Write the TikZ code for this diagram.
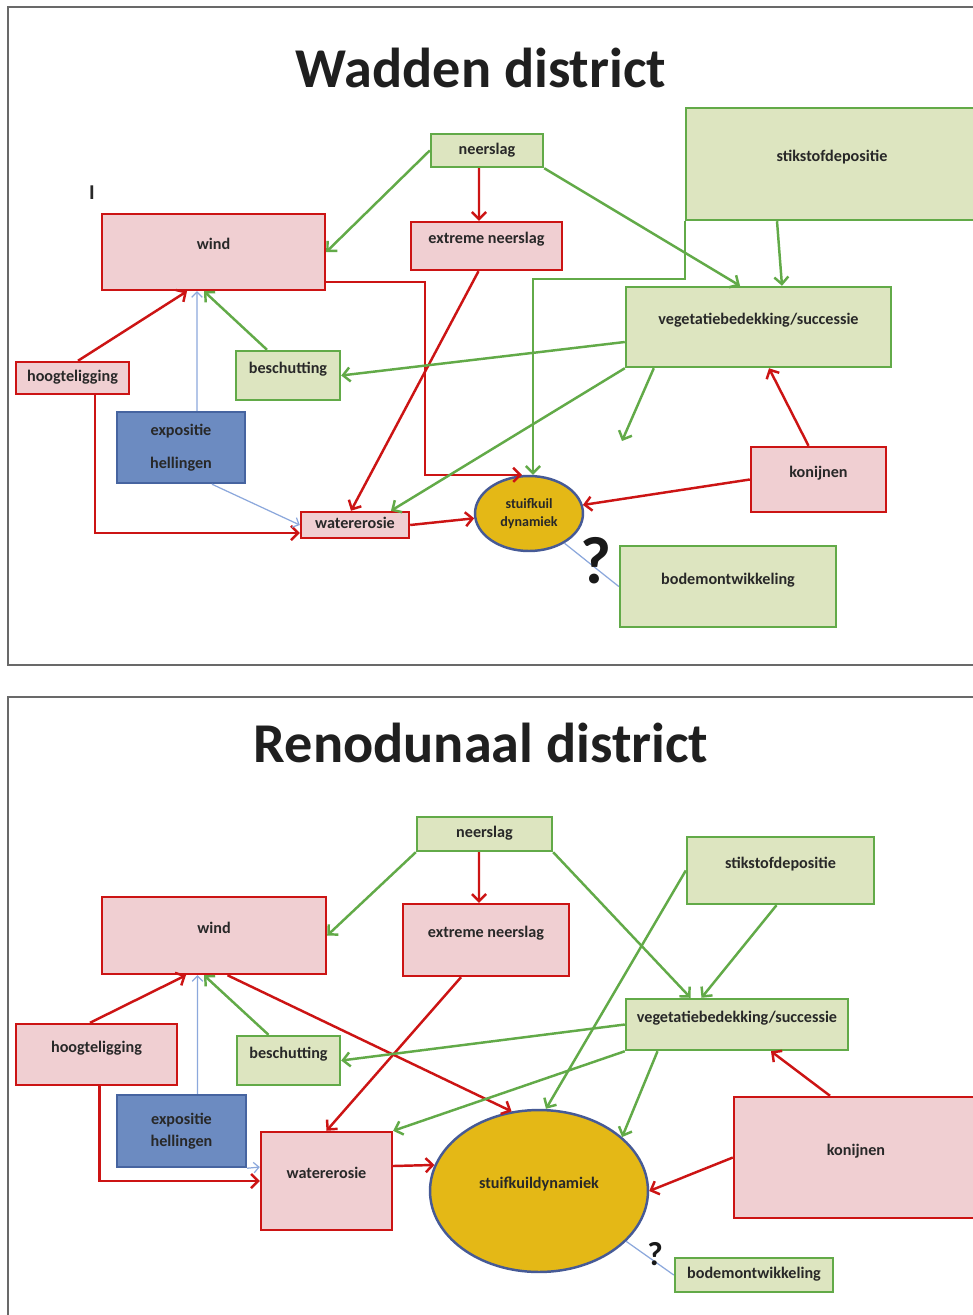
\documentclass[tikz,border=0pt]{standalone}
\usepackage{fontspec}
\setmainfont{Carlito}
\usetikzlibrary{arrows.meta,shapes.geometric}

\definecolor{rline}{RGB}{204,20,20}
\definecolor{rfill}{RGB}{240,207,210}
\definecolor{gline}{RGB}{98,170,72}
\definecolor{gfill}{RGB}{221,229,192}
\definecolor{bline}{RGB}{70,100,160}
\definecolor{bfill}{RGB}{108,139,193}
\definecolor{thinb}{RGB}{140,168,220}
\definecolor{gold}{RGB}{228,184,22}
\definecolor{kline}{RGB}{70,90,150}
\definecolor{txt}{RGB}{40,40,40}
\definecolor{framegray}{RGB}{105,105,105}

\newcommand{\lblfont}{\fontsize{9.2}{11}\selectfont\bfseries}

\tikzset{
  nbox/.style={line width=1.4pt, inner sep=0pt, font=\lblfont, text=txt,
    text height=6.5pt, text depth=2pt},
  raised/.style={text depth=9pt},
  rbox/.style={nbox, draw=rline, fill=rfill},
  gbox/.style={nbox, draw=gline, fill=gfill},
  blbox/.style={line width=1.4pt, inner sep=0pt, font=\lblfont, text=txt,
    draw=bline, fill=bfill, align=center},
  kuil/.style={ellipse, line width=1.4pt, inner sep=0pt, draw=kline, fill=gold,
    font=\lblfont, text=txt, align=center},
  rarrow/.style={draw=rline, line width=1.4pt, -{Straight Barb[length=4pt,width=8pt]}},
  garrow/.style={draw=gline, line width=1.4pt, -{Straight Barb[length=4pt,width=8pt]}},
  barrow/.style={draw=thinb, line width=0.7pt, -{Straight Barb[length=3pt,width=6pt]}},
  thinline/.style={draw=thinb, line width=0.7pt},
  heading/.style={font=\fontsize{32}{38}\selectfont\bfseries, text=black!88, anchor=base},
  qmark/.style={font=\fontsize{#1}{#1}\selectfont\bfseries, text=black!90},
}

\begin{document}
\begin{tikzpicture}[x=0.02cm, y=-0.02cm]
    \clip (0,0) rectangle (973,1315);
    \fill[white] (0,0) rectangle (973,1315);
    % panel frames
    \draw[framegray, line width=0.6pt] (8,7) rectangle (990,665);
    \draw[framegray, line width=0.6pt] (8,697) rectangle (990,1330);

    % ---------------- Wadden district ----------------
    \node[heading] (title1) at (481,87) {Wadden district};
    \node[font=\fontsize{12}{14}\selectfont\bfseries, text=txt] (mark1) at (92,193) {I};

    \node[gbox, minimum width=2.24cm, minimum height=0.66cm] (neer1) at (487,150.5) {neerslag};
    \node[rbox, raised, minimum width=4.46cm, minimum height=1.52cm] (wind1) at (213.5,252) {wind};
    \node[rbox, raised, minimum width=3.02cm, minimum height=0.96cm] (ext1) at (486.5,246) {extreme neerslag};
    \node[gbox, raised, minimum width=5.84cm, minimum height=2.24cm] (stik1) at (832,164) {stikstofdepositie};
    \node[gbox, raised, minimum width=5.30cm, minimum height=1.60cm] (veg1) at (758.5,327) {vegetatiebedekking/successie};
    \node[rbox, minimum width=2.26cm, minimum height=0.64cm] (hoog1) at (72.5,378) {hoogteligging};
    \node[gbox, raised, minimum width=2.08cm, minimum height=0.98cm] (besch1) at (288,375.5) {beschutting};
    \node[blbox, minimum width=2.56cm, minimum height=1.42cm] (expo1) at (181,447.5) {expositie\\[7.5pt]hellingen};
    \node[rbox, minimum width=2.16cm, minimum height=0.52cm] (water1) at (355,525) {watererosie};
    \node[kuil, minimum width=2.16cm, minimum height=1.50cm,
      font=\fontsize{8}{10}\selectfont\bfseries] (stuif1) at (529,513.5) {stuifkuil\\dynamiek};
    \node[rbox, raised, minimum width=2.70cm, minimum height=1.30cm] (konij1) at (818.5,479.5) {konijnen};
    \node[gbox, raised, minimum width=4.32cm, minimum height=1.62cm] (bodem1) at (728,586.5) {bodemontwikkeling};
    \coordinate (open1) at (622,441);

    \draw[garrow] (neer1.west) -- (wind1.east);
    \draw[rarrow] ([xshift=-0.16cm]neer1.south) -- ([xshift=-0.15cm]ext1.north);
    \draw[garrow] (neer1.south east) -- ([xshift=-0.37cm]veg1.north);
    \draw[garrow] ([xshift=-1.10cm]stik1.south) -- ([xshift=0.47cm]veg1.north);
    \draw[garrow] (stik1.south west) -- ++(0,58) -| ([xshift=0.08cm]stuif1.north);
    \draw[rarrow] ([yshift=-0.6cm]wind1.east) -- ++(99,0) |- ([xshift=-0.14cm]stuif1.north);
    \draw[rarrow] ([xshift=-0.16cm]ext1.south) -- ([xshift=-0.08cm]water1.north);
    \draw[garrow] (veg1.south west) -- ([xshift=0.72cm]water1.north);
    \draw[garrow] ([yshift=-0.3cm]veg1.west) -- (besch1.east);
    \draw[garrow] ([xshift=0.58cm]veg1.south west) -- (open1);
    \draw[rarrow] ([xshift=-0.2cm]konij1.north) -- ([xshift=0.21cm]veg1.south);
    \draw[rarrow] (konij1.west) -- (stuif1.9);
    \draw[rarrow] ([xshift=0.11cm]hoog1.north) -- ([xshift=-0.53cm]wind1.south);
    \draw[barrow] ([xshift=0.32cm]expo1.north) -- ([xshift=-0.33cm]wind1.south);
    \draw[garrow] ([xshift=-0.42cm]besch1.north) -- ([xshift=-0.19cm]wind1.south);
    \draw[rarrow] ([xshift=0.45cm]hoog1.south) |- ([yshift=-0.16cm]water1.west);
    \draw[barrow] ([xshift=0.62cm]expo1.south) -- (water1.west);
    \draw[rarrow] (water1.east) -- (stuif1.185);
    \draw[thinline] (stuif1.-40) -- (bodem1.west);
    \node[qmark=38] (q1) at (596,561) {?};

    % ---------------- Renodunaal district ----------------
    \node[heading] (title2) at (481,762) {Renodunaal district};

    \node[gbox, minimum width=2.70cm, minimum height=0.68cm] (neer2) at (484.5,834) {neerslag};
    \node[rbox, raised, minimum width=4.48cm, minimum height=1.54cm] (wind2) at (214,935.5) {wind};
    \node[rbox, raised, minimum width=3.32cm, minimum height=1.44cm] (ext2) at (486,940) {extreme neerslag};
    \node[gbox, raised, minimum width=3.74cm, minimum height=1.34cm] (stik2) at (780.5,870.5) {stikstofdepositie};
    \node[gbox, raised, minimum width=4.44cm, minimum height=1.02cm] (veg2) at (737,1024.5) {vegetatiebedekking/successie};
    \node[rbox, raised, minimum width=3.22cm, minimum height=1.22cm] (hoog2) at (96.5,1054.5) {hoogteligging};
    \node[gbox, raised, minimum width=2.06cm, minimum height=0.98cm] (besch2) at (288.5,1060.5) {beschutting};
    \node[blbox, minimum width=2.58cm, minimum height=1.44cm] (expo2) at (181.5,1131) {expositie\\[1.5pt]hellingen};
    \node[rbox, raised, minimum width=2.62cm, minimum height=1.96cm] (water2) at (326.5,1181) {watererosie};
    \node[kuil, text height=6.5pt, text depth=9pt, minimum width=4.36cm, minimum height=3.24cm] (stuif2) at (539,1191) {stuifkuildynamiek};
    \node[rbox, raised, minimum width=4.88cm, minimum height=2.42cm] (konij2) at (856,1157.5) {konijnen};
    \node[gbox, minimum width=3.16cm, minimum height=0.68cm] (bodem2) at (754,1275) {bodemontwikkeling};

    \draw[garrow] (neer2.south west) -- (wind2.east);
    \draw[rarrow] ([xshift=-0.11cm]neer2.south) -- ([xshift=-0.14cm]ext2.north);
    \draw[garrow] (neer2.south east) -- ([xshift=-0.93cm]veg2.north);
    \draw[garrow] ([xshift=-0.08cm]stik2.south) -- ([xshift=-0.71cm]veg2.north);
    \draw[garrow] (stik2.west) -- ([xshift=0.14cm]stuif2.north);
    \draw[rarrow] ([xshift=0.27cm]wind2.south) -- (stuif2.109);
    \draw[rarrow] ([xshift=-0.5cm]ext2.south) -- (water2.north);
    \draw[garrow] (veg2.west) -- (besch2.east);
    \draw[garrow] (veg2.south west) -- (water2.north east);
    \draw[garrow] ([xshift=-1.59cm]veg2.south) -- (stuif2.33);
    \draw[rarrow] ([xshift=-0.52cm]konij2.north) -- ([xshift=0.68cm]veg2.south);
    \draw[rarrow] (konij2.west) -- (stuif2.east);
    \draw[rarrow] ([xshift=-0.13cm]hoog2.north) -- ([xshift=-0.56cm]wind2.south);
    \draw[barrow] ([xshift=0.32cm]expo2.north) -- ([xshift=-0.33cm]wind2.south);
    \draw[garrow] ([xshift=-0.4cm]besch2.north) -- ([xshift=-0.2cm]wind2.south);
    \draw[rarrow] ([xshift=0.06cm]hoog2.south) |- (water2.west);
    \draw[barrow] (expo2.south east) -- ([yshift=0.28cm]water2.west);
    \draw[rarrow] ([yshift=0.3cm]water2.east) -- (stuif2.166);
    \draw[thinline] (stuif2.-30) -- (bodem2.west);
    \node[qmark=19] (q2) at (655,1254) {?};
\end{tikzpicture}
\end{document}
